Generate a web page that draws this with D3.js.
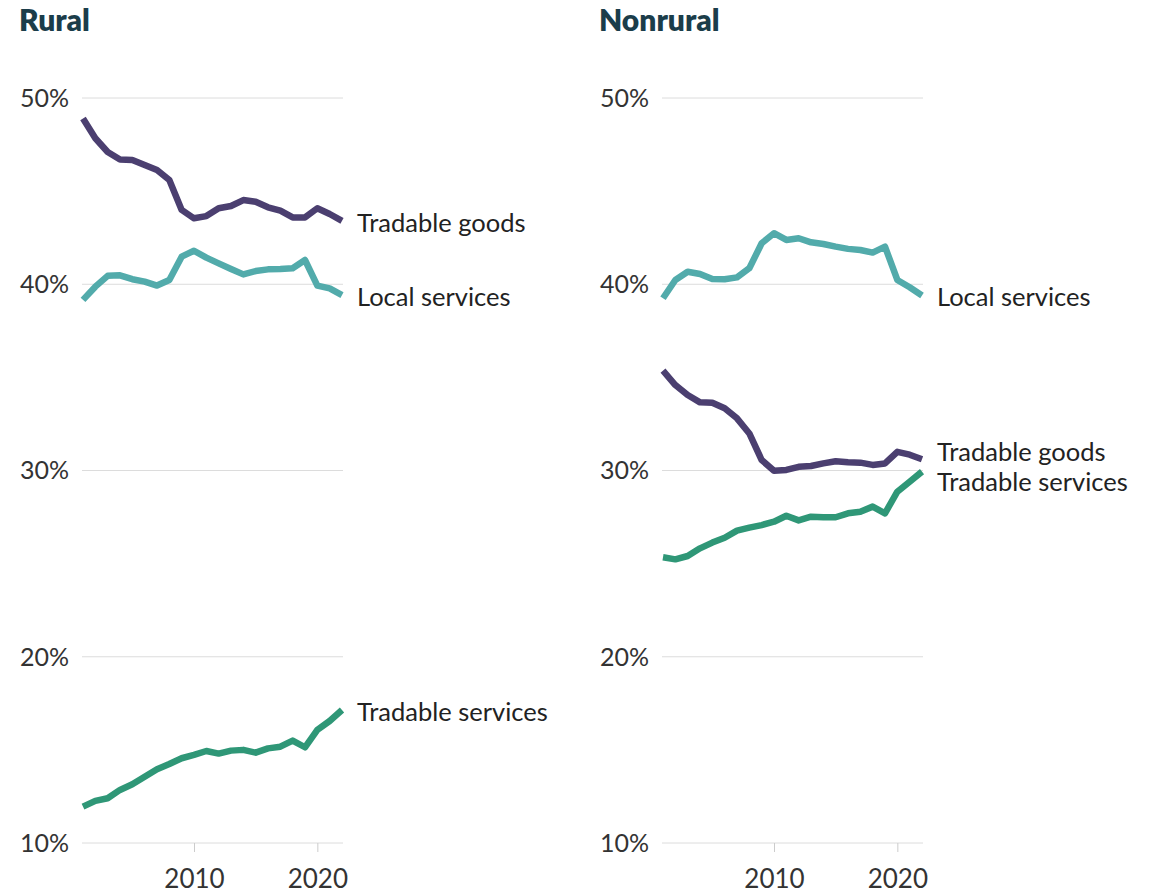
<!DOCTYPE html>
<html>
<head>
<meta charset="utf-8">
<script src="https://cdn.jsdelivr.net/npm/d3@7"></script>
<style>
  body { margin: 0; background: #fff; }
  svg text { font-family: Lato, "Noto Sans", sans-serif; }
</style>
</head>
<body>
<div id="app"></div>
<script>
// years 2001..2022
const years = d3.range(2001, 2023)

const ruralGoods = [48.9, 47.84, 47.1, 46.7, 46.67, 46.4, 46.13, 45.6, 43.99, 43.54, 43.66, 44.08, 44.2, 44.52, 44.43, 44.13, 43.95, 43.59, 43.59, 44.08, 43.77, 43.4]
const ruralLocal = [39.16, 39.87, 40.45, 40.48, 40.27, 40.14, 39.93, 40.23, 41.48, 41.8, 41.43, 41.12, 40.82, 40.53, 40.71, 40.8, 40.82, 40.86, 41.3, 39.93, 39.78, 39.42]
const ruralServ = [11.95, 12.26, 12.4, 12.85, 13.15, 13.56, 13.96, 14.24, 14.55, 14.73, 14.94, 14.8, 14.96, 15.0, 14.85, 15.08, 15.17, 15.5, 15.14, 16.07, 16.55, 17.14]

const nonruralGoods = [35.36, 34.59, 34.05, 33.66, 33.64, 33.34, 32.8, 31.99, 30.56, 29.99, 30.03, 30.2, 30.24, 30.38, 30.5, 30.44, 30.42, 30.3, 30.38, 31.0, 30.85, 30.6]
const nonruralLocal = [39.25, 40.23, 40.67, 40.55, 40.28, 40.27, 40.37, 40.86, 42.2, 42.74, 42.38, 42.47, 42.25, 42.16, 42.02, 41.9, 41.84, 41.7, 42.02, 40.23, 39.84, 39.4]
const nonruralServ = [25.34, 25.23, 25.41, 25.82, 26.13, 26.39, 26.77, 26.93, 27.07, 27.25, 27.57, 27.32, 27.52, 27.49, 27.49, 27.7, 27.79, 28.06, 27.7, 28.86, 29.4, 29.94]

const yTicks = [10, 20, 30, 40, 50]
const xTicks = [2010, 2020]
const panelTitles = ['Rural', 'Nonrural']

const colors = {
  'Tradable goods': '#4b3f70',
  'Local services': '#52abab',
  'Tradable services': '#2f9777'
}

const panels = [
  { title: panelTitles[0], series: [
    { name: 'Tradable goods', values: ruralGoods },
    { name: 'Local services', values: ruralLocal },
    { name: 'Tradable services', values: ruralServ }
  ]},
  { title: panelTitles[1], series: [
    { name: 'Local services', values: nonruralLocal },
    { name: 'Tradable goods', values: nonruralGoods },
    { name: 'Tradable services', values: nonruralServ }
  ]}
]

const svg = d3.select('#app').append('svg')
  .attr('width', 1150)
  .attr('height', 890)

const y = d3.scaleLinear().domain([10, 50]).range([843, 98])

panels.forEach((p, pi) => {
  const off = pi * 580
  const x = d3.scaleLinear().domain([2001, 2022]).range([83 + off, 342 + off])
  const g = svg.append('g')

  g.append('text')
    .attr('x', 19 + off).attr('y', 31)
    .attr('font-size', 30).attr('font-weight', 800)
    .attr('fill', '#1b3d4a')
    .text(p.title)

  // grid
  g.selectAll('.grid').data(yTicks).enter().append('line')
    .attr('x1', 82 + off).attr('x2', 343 + off)
    .attr('y1', d => y(d)).attr('y2', d => y(d))
    .attr('stroke', '#dcdcdc').attr('stroke-width', 1)

  g.selectAll('.ylab').data(yTicks).enter().append('text')
    .attr('x', 69 + off).attr('y', d => y(d))
    .attr('dy', '0.35em')
    .attr('text-anchor', 'end')
    .attr('font-size', 25).attr('fill', '#333')
    .text(d => d + '%')

  // x axis
  const xa = g.append('g').attr('transform', `translate(0,${y(10)})`)
    .call(d3.axisBottom(x).tickValues(xTicks).tickFormat(d3.format('d')).tickSize(9).tickPadding(18))
  xa.select('.domain').remove()
  xa.selectAll('line').attr('stroke', '#ccc')
  xa.selectAll('text').attr('font-size', 26).attr('fill', '#333')
    .style('font-family', 'Lato, "Noto Sans", sans-serif')

  const line = d3.line().x((d, i) => x(years[i])).y(d => y(d))

  g.selectAll('.series').data(p.series).enter().append('path')
    .attr('d', d => line(d.values))
    .attr('fill', 'none')
    .attr('stroke', d => colors[d.name])
    .attr('stroke-width', 6.5)
    .attr('stroke-linejoin', 'round')

  // end labels, nudged apart when too close
  const labs = p.series.map(s => ({ name: s.name, y: y(s.values[s.values.length - 1]) }))
    .sort((a, b) => a.y - b.y)
  for (let k = 1; k < labs.length; k++) {
    const gap = labs[k].y - labs[k - 1].y
    if (gap < 30) {
      const push = (30 - gap) / 2
      labs[k - 1].y -= push
      labs[k].y += push
    }
  }
  g.selectAll('.lab').data(labs).enter().append('text')
    .attr('x', x(2022) + 15)
    .attr('y', d => d.y + 2)
    .attr('dy', '0.35em')
    .attr('font-size', 25.5).attr('fill', '#222')
    .text(d => d.name)
})
</script>
</body>
</html>
